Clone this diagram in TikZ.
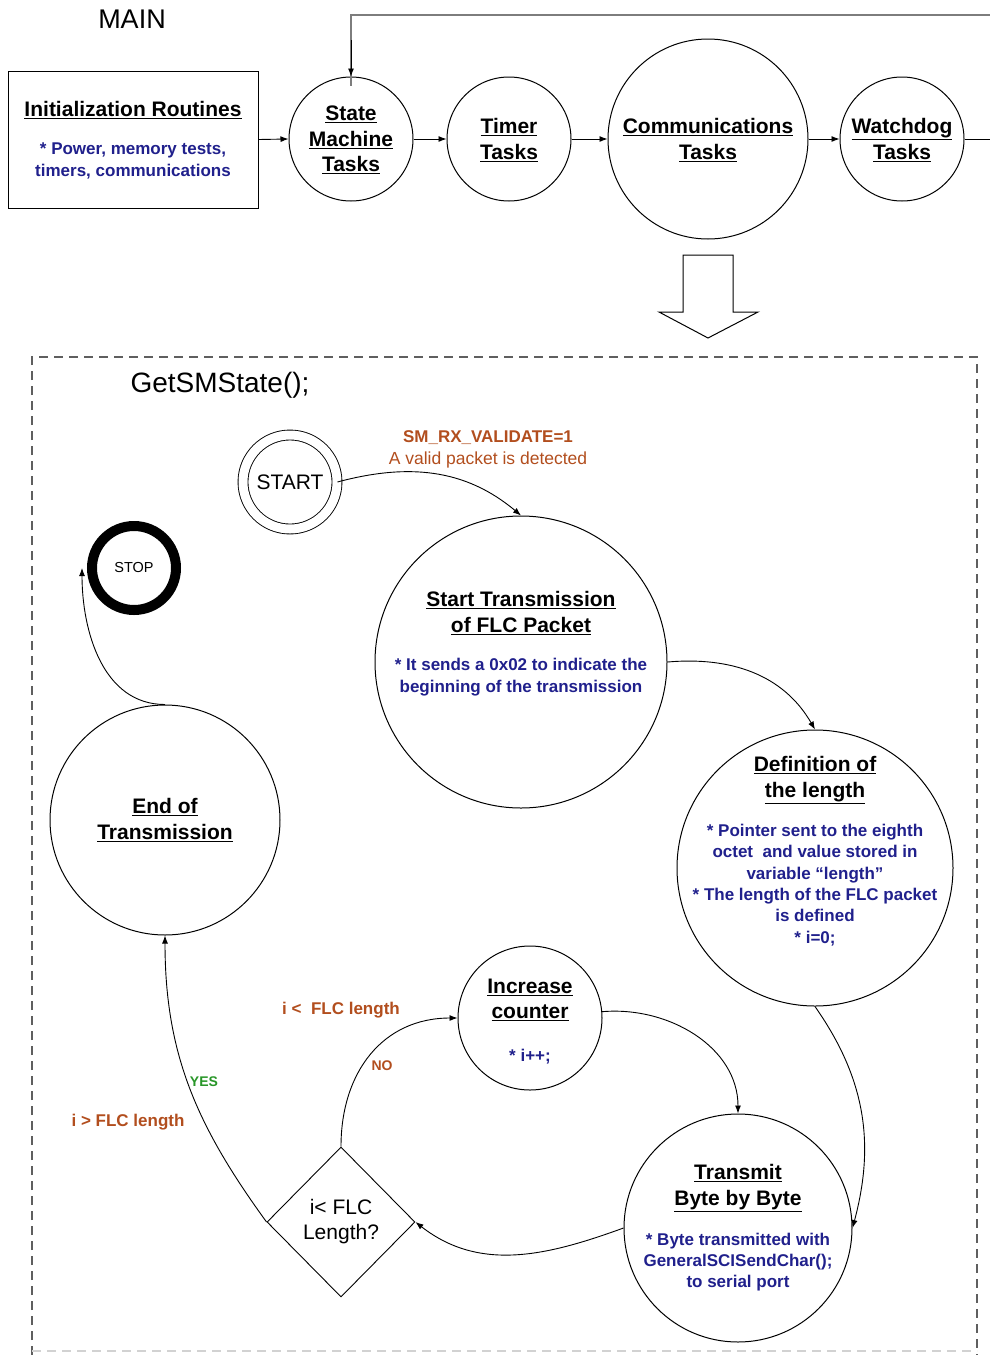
\documentclass[tikz,border=0pt]{standalone}
\usepackage{fontspec}
\setmainfont{Liberation Sans}
\usetikzlibrary{arrows.meta,shapes.geometric}

\definecolor{navytext}{RGB}{32,32,140}
\definecolor{rust}{RGB}{178,78,30}
\definecolor{yesgreen}{RGB}{40,150,40}
\definecolor{loopgray}{RGB}{125,125,125}
\definecolor{boxgray}{RGB}{95,95,95}

\tikzset{
  state/.style={circle, draw, line width=1pt, inner sep=0pt},
  ttl/.style={font=\fontsize{21}{25.5}\selectfont\bfseries, align=center, inner sep=0pt, yshift=-2pt},
  body/.style={font=\fontsize{17}{21.3}\selectfont\bfseries, text=navytext, align=center, inner sep=0pt, yshift=-2pt},
  cond/.style={font=\fontsize{17}{21}\selectfont\bfseries, text=rust, inner sep=0pt},
  plain/.style={font=\fontsize{17.5}{22}\selectfont, text=rust, inner sep=0pt},
  arr/.style={-{Latex[length=8pt,width=6pt]}, line width=0.9pt},
}

\begin{document}
\begin{tikzpicture}[x=1pt, y=-1pt]
\useasboundingbox (0,0) rectangle (990,1355);

% ---------------- main loop ----------------
\node[font=\fontsize{27}{30}\selectfont, inner sep=0pt] (maintitle) at (132,19) {MAIN};

\node[draw, line width=1pt, minimum width=250pt, minimum height=137pt, inner sep=0pt] (init) at (133,139.5) {};
\node[ttl] (initttl) at (133,108) {\underline{Initialization Routines}};
\node[body] (initbody) at (133,159) {* Power, memory tests,\\timers, communications};

\node[state, minimum size=124pt] (sm) at (351,139) {};
\node[ttl] (smttl) at (351,138) {\underline{State}\\\underline{Machine}\\\underline{Tasks}};

\node[state, minimum size=124pt] (timer) at (509,139) {};
\node[ttl] (timerttl) at (509,138) {\underline{Timer}\\\underline{Tasks}};

\node[state, minimum size=200pt] (comm) at (708,139) {};
\node[ttl] (commttl) at (708,138) {\underline{Communications}\\\underline{Tasks}};

\node[state, minimum size=124pt] (wd) at (902,139) {};
\node[ttl] (wdttl) at (902,138) {\underline{Watchdog}\\\underline{Tasks}};

\coordinate (wdout) at (990,139);
\coordinate (loopin) at (990,15);

\draw[arr] (init.east) -- (sm.west);
\draw[arr] (sm.east) -- (timer.west);
\draw[arr] (timer.east) -- (comm.west);
\draw[arr] (comm.east) -- (wd.west);
\draw[line width=0.9pt] (wd.east) -- (wdout);
\draw[line width=2pt, loopgray] (loopin) -- (351,15) -- ([yshift=-9pt]sm.north);
\draw[arr] (351,40) -- (sm.north);

% hollow arrow into the state machine detail
\draw[line width=1pt] (683,255) -- (733,255) -- (733,312) -- (758,312) -- (708,338)
  -- (659,312) -- (683,312) -- cycle;

% ---------------- GetSMState frame ----------------
\draw[boxgray, line width=1.3pt, dash pattern=on 9pt off 6pt]
  (32,1355) -- (32,357) -- (977,357) -- (977,1355);
\draw[gray!35, line width=1.2pt, dash pattern=on 9pt off 6pt] (32,1351) -- (977,1351);
\node[font=\fontsize{28}{30}\selectfont, inner sep=0pt] (smname) at (220,385) {GetSMState();};

% states
\node[state, minimum size=94pt, double, double distance=9pt, line width=0.9pt] (start) at (290,482) {};
\node[font=\fontsize{21}{24}\selectfont, inner sep=0pt] (startlbl) at (290,482) {START};

\node[circle, draw, line width=10pt, minimum size=84pt, inner sep=0pt] (stop) at (134,568) {};
\node[font=\fontsize{14.5}{16}\selectfont, inner sep=0pt] (stoplbl) at (134,568) {STOP};

\node[state, minimum size=292pt] (stx) at (521,662) {};
\node[ttl] (stxttl) at (521,611) {\underline{Start Transmission}\\\underline{of FLC Packet}};
\node[body] (stxbody) at (521,675) {* It sends a 0x02 to indicate the\\beginning of the transmission};

\node[state, minimum size=276pt] (def) at (815,868) {};
\node[ttl] (defttl) at (815,778) {\underline{Definition of}\\\underline{the length}};
\node[body] (defbody) at (815,883) {* Pointer sent to the eighth\\octet\ \ and value stored in\\variable “length"\\* The length of the FLC packet\\is defined\\* i=0;};

\node[state, minimum size=144pt] (inc) at (530,1018) {};
\node[ttl] (incttl) at (530,998) {\underline{Increase}\\\underline{counter}};
\node[body] (incbody) at (530,1055) {* i++;};

\node[state, minimum size=228pt] (tr) at (738,1228) {};
\node[ttl] (trttl) at (738,1186) {\underline{Transmit}\\\underline{Byte by Byte}};
\node[body] (trbody) at (738,1260) {* Byte transmitted with\\GeneralSCISendChar();\\to serial port};

\node[state, minimum size=230pt] (eot) at (165,820) {};
\node[ttl] (eotttl) at (165,818) {\underline{End of}\\\underline{Transmission}};

\node[diamond, draw, line width=0.9pt, minimum width=148pt, minimum height=150pt, inner sep=0pt,
      font=\fontsize{21}{25}\selectfont, align=center] (dia) at (341,1222) {i< FLC\\Length?};

% transitions
\draw[arr] (start.east) to[out=15, in=140] (stx.north);
\node[cond] (valid1) at (488,438) {SM\_RX\_VALIDATE=1};
\node[plain] (valid2) at (488,460) {A valid packet is detected};

\draw[arr] (stx.east) to[out=5, in=120] (def.north);
\draw[arr] (def.south) to[out=-55, in=75] (tr.east);
\draw[arr] (inc.5) to[out=5, in=90] (tr.north);
\draw[arr] (tr.west) to[out=200, in=-38] (dia.east);
\draw[arr] (dia.north) to[out=90, in=180, looseness=1.1] (inc.west);
\draw[arr] (dia.west) to[out=126, in=-90] (eot.south);
\draw[arr] (eot.north) to[out=180, in=-90] ([xshift=-5pt]stop.west);

\node[cond] (iless) at (341,1010) {i <\ \ FLC length};
\node[font=\fontsize{14}{16}\selectfont\bfseries, text=rust, inner sep=0pt] (nolbl) at (382,1066) {NO};
\node[font=\fontsize{14}{16}\selectfont\bfseries, text=yesgreen, inner sep=0pt] (yeslbl) at (204,1082) {YES};
\node[cond] (igreater) at (128,1122) {i > FLC length};

\end{tikzpicture}
\end{document}
